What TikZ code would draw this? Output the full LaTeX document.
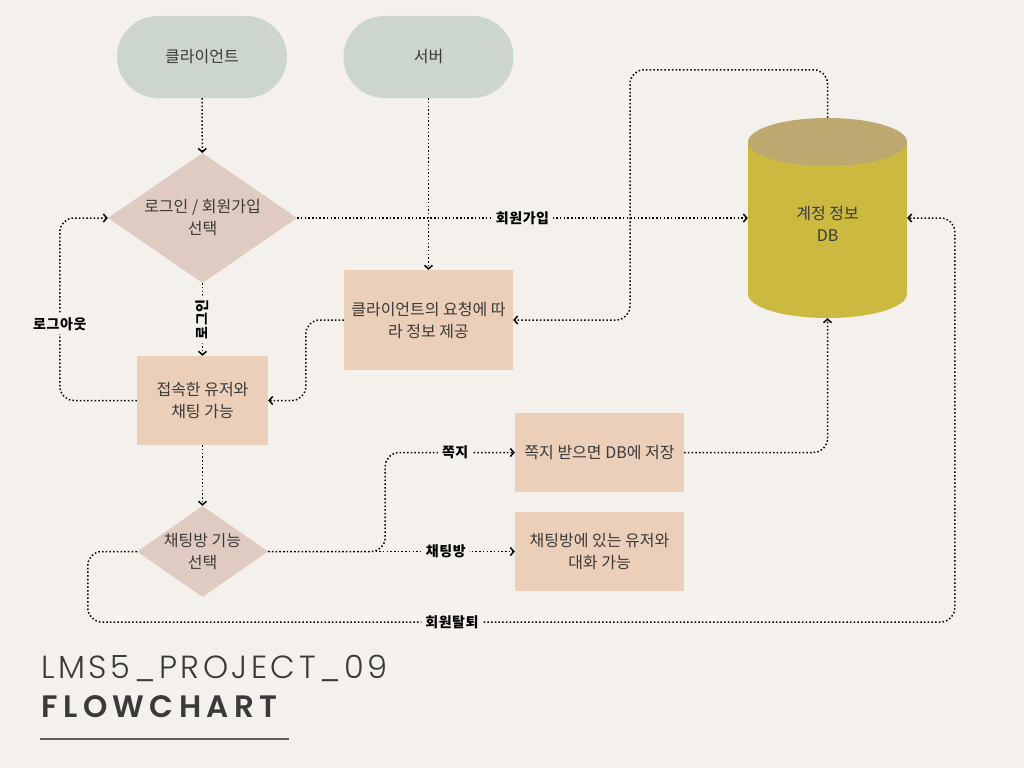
\documentclass[tikz,border=0pt]{standalone}
\usepackage{fontspec}
\setmainfont{Noto Sans CJK KR}
\newfontfamily\titlefont{Poppins}[UprightFont=* Light, LetterSpace=11]
\newfontfamily\headfont{Poppins}[UprightFont=* SemiBold, LetterSpace=17.5]
\newfontfamily\tagfont{Noto Sans CJK KR}[LetterSpace=4]
\usetikzlibrary{arrows.meta,shapes.geometric}
\definecolor{bg}{HTML}{F4F0EB}
\definecolor{ink}{HTML}{3A3A3A}
\definecolor{pillc}{HTML}{CCD6CD}
\definecolor{choicec}{HTML}{DFCBC1}
\definecolor{boxc}{HTML}{ECCFB8}
\definecolor{dbbody}{HTML}{CCB940}
\definecolor{dbtop}{HTML}{BDA96F}
\begin{document}
\begin{tikzpicture}[x=1pt,y=-1pt,
  every node/.style={font=\fontsize{16}{22}\selectfont, text=ink, align=center},
  pill/.style={fill=pillc, rounded corners=41pt, minimum width=170pt, minimum height=82pt},
  choice/.style={diamond, fill=choicec, inner sep=0pt},
  stepbox/.style={fill=boxc, minimum width=169pt},
  link/.style={line width=1.5pt, dash pattern=on 1.5pt off 2.2pt, rounded corners=14pt,
    -{Straight Barb[length=3.5pt,width=8pt,line width=1.5pt]}},
  tag/.style={font=\tagfont\fontsize{14}{16}\selectfont\bfseries, text=black, fill=bg, inner sep=4pt}]
\fill[bg] (0,0) rectangle (1024,768);
\useasboundingbox (0,0) rectangle (1024,768);
\node[pill] (client) at (202,57) {클라이언트};
\node[pill] (server) at (428.5,57) {서버};
\node[choice, minimum width=189pt, minimum height=130pt,
  label={center:로그인 / 회원가입\\선택}] (select1) at (202.5,218) {};
\node[stepbox, minimum height=100pt] (info) at (428.5,320) {클라이언트의 요청에 따\\라 정보 제공};
\node[stepbox, minimum width=131pt, minimum height=89pt] (chat) at (202.5,400.5) {접속한 유저와\\채팅 가능};
\node[choice, minimum width=131pt, minimum height=91pt,
  label={center:채팅방 기능\\선택}] (select2) at (202.5,551.5) {};
\node[stepbox, minimum height=79pt] (memo) at (599.5,452.5) {쪽지 받으면 DB에 저장};
\node[stepbox, minimum height=79pt] (room) at (599.5,551.5) {채팅방에 있는 유저와\\대화 가능};
% account database
\fill[dbbody] (748,142) rectangle (907,294);
\fill[dbbody] (827.5,294) ellipse [x radius=79.5pt, y radius=24pt];
\fill[dbtop] (827.5,142) ellipse [x radius=79.5pt, y radius=24pt];
\node[minimum width=159pt, minimum height=200pt, inner sep=0pt] (db) at (827.5,218) {};
\node (dblabel) at (827.5,224) {계정 정보\\DB};
% connectors
\draw[link] (client) -- (select1);
\draw[link] (server) -- (info);
\draw[link] (select1.east) -- node[tag]{회원가입} (db.west);
\draw[link] (select1) -- node[tag,rotate=90]{로그인} (chat);
\draw[link] (chat.west) -- ++(-77,0) |- node[tag,pos=0.21]{로그아웃} (select1.west);
\draw[link] (info.west) -- ++(-38,0) |- (chat.east);
\draw[link] (db.north) -- ++(0,-48) -- ++(-197.5,0) |- (info.east);
\draw[link] (chat) -- (select2);
\draw[link] (select2.east) -- ++(117,0) |- node[tag,pos=0.77]{쪽지} (memo.west);
\draw[link] (select2.east) -- node[tag,pos=0.72]{채팅방} (room.west);
\draw[link] (memo.east) -| (db.south);
\draw[link] (select2.west) -- ++(-49,0) -- ++(0,70.5)
  -- node[tag,pos=0.42]{회원탈퇴} ++(867,0) |- (db.east);
% title
\node[anchor=base west, font=\titlefont\fontsize{32}{32}\selectfont] (title) at (38,678) {LMS5\_PROJECT\_09};
\node[anchor=base west, font=\headfont\fontsize{31}{31}\selectfont] (subtitle) at (38,717) {FLOWCHART};
\draw[ink!80, line width=1.5pt] (40,739) -- (289,739);
\end{tikzpicture}
\end{document}
